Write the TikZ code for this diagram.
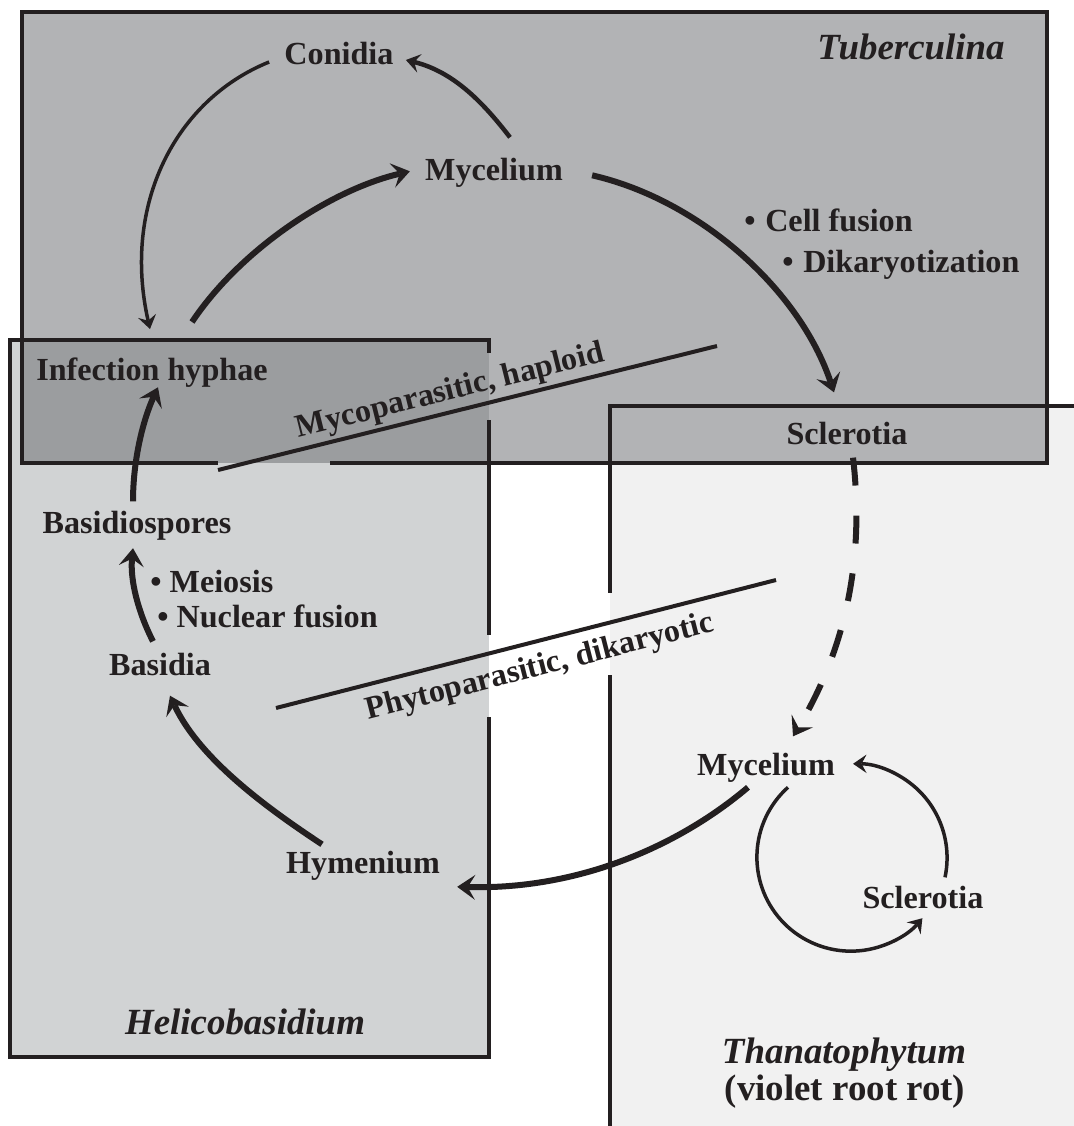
\documentclass[tikz,border=0pt]{standalone}
\usepackage{fontspec}
\setmainfont{Liberation Serif}
\usetikzlibrary{arrows.meta}
\definecolor{ink}{HTML}{231F20}
\definecolor{tubgray}{HTML}{B2B3B5}
\definecolor{helgray}{HTML}{D1D3D4}
\definecolor{lapgray}{HTML}{9B9D9F}
\definecolor{thagray}{HTML}{F1F1F1}
\begin{document}
\begin{tikzpicture}[x = 0.2mm, y = 0.2mm, color = ink,
  stage/.style = {font = \fontsize{18.3}{22}\selectfont\bfseries, inner sep = 0, anchor = base},
  genus/.style = {font = \fontsize{21}{25}\selectfont\bfseries\itshape, inner sep = 0, anchor = base},
  bigarrow/.style = {line width = 1.2mm, -{Stealth[length = 3.6mm, width = 5mm, inset = 1.5mm, line width = 0pt]}},
  midarrow/.style = {line width = 0.9mm, -{Stealth[length = 2.8mm, width = 3.8mm, inset = 1.1mm, line width = 0pt]}},
  thinarrow/.style = {line width = 0.7mm, -{Stealth[length = 2.7mm, width = 3.7mm, inset = 1mm, line width = 0pt]}},
  boxline/.style = {line width = 0.8mm}]

\fill [white] (0,0) rectangle (1074,-1126);
\useasboundingbox (0,0) rectangle (1074,-1126);

\fill [thagray] (610,-406) rectangle (1074,-1126);
\fill [tubgray] (22,-12) rectangle (1047,-463);
\fill [helgray] (10,-340) rectangle (489,-1057);
\fill [lapgray] (22,-340) rectangle (489,-463);

\draw [boxline] (218,-463) -- (22,-463) -- (22,-12) -- (1047,-12) -- (1047,-463) -- (330,-463);
\draw [boxline] (489,-353) -- (489,-340) -- (10,-340) -- (10,-1057) -- (489,-1057) -- (489,-717);
\draw [boxline] (489,-420) -- (489,-635);
\draw [boxline] (1074,-406) -- (610,-406) -- (610,-593);
\draw [boxline] (610,-675) -- (610,-1126);

\node [genus] (tub) at (911,-60) {Tuberculina};
\node [genus] (helico) at (245,-1034) {Helicobasidium};
\node [genus] (thanato) at (844,-1063) {Thanatophytum};
\node [genus, font = \fontsize{21}{25}\selectfont\bfseries] (violet) at (845,-1100) {(violet root rot)};

\node [stage] (conidia) at (339,-65) {Conidia};
\node [stage] (mycA) at (494,-181) {Mycelium};
\node [stage, anchor = base west] (cellfus) at (744,-232) {\textbullet\hspace{0.3em}Cell fusion};
\node [stage, anchor = base west] (dikar) at (782,-272) {\textbullet\hspace{0.3em}Dikaryotization};
\node [stage] (infect) at (152,-380) {Infection hyphae};
\node [stage] (sclerA) at (847,-444) {Sclerotia};
\node [stage] (basidiosp) at (137,-533) {Basidiospores};
\node [stage, anchor = base west] (meiosis) at (150,-592) {\textbullet\hspace{0.25em}Meiosis};
\node [stage, anchor = base west] (nucfus) at (157,-627) {\textbullet\hspace{0.25em}Nuclear fusion};
\node [stage] (basidia) at (160,-675) {Basidia};
\node [stage] (mycB) at (766,-775) {Mycelium};
\node [stage] (hymen) at (363,-873) {Hymenium};
\node [stage] (sclerB) at (923,-908) {Sclerotia};

\coordinate (mycoL) at (218,-470);
\coordinate (mycoR) at (717,-346);
\coordinate (phytoL) at (276,-708);
\coordinate (phytoR) at (776,-580);

\draw [boxline] (mycoL) -- node [stage, pos = 0.475, sloped, above = 0.6mm] (myco) {Mycoparasitic, haploid} (mycoR);
\draw [boxline] (phytoL) -- node [stage, pos = 0.515, sloped, below = 2mm] (phyto) {Phytoparasitic, dikaryotic} (phytoR);

\draw [thinarrow] ([shift = {(-15,-8)}] conidia.west) .. controls (175,-100) and (122,-205) .. ([shift = {(-2,28)}] infect.north);
\draw [bigarrow] ([shift = {(40,35)}] infect.north) .. controls (240,-250) and (330,-190) .. ([shift = {(-15,2)}] mycA.west);
\draw [midarrow] ([shift = {(16,21)}] mycA.north) .. controls (485,-105) and (455,-72) .. ([shift = {(12,-6)}] conidia.east);
\draw [bigarrow] ([shift = {(29,-2)}] mycA.east) .. controls (700,-200) and (800,-290) .. ([shift = {(-13,29)}] sclerA.north);
\draw [bigarrow, dash pattern = on 5.6mm off 6mm] ([shift = {(6,-13)}] sclerA.south) .. controls (865,-560) and (845,-650) .. ([shift = {(27,16)}] mycB.north);
\draw [bigarrow] ([shift = {(-18,-5)}] mycB.south) .. controls (680,-845) and (580,-890) .. ([shift = {(17,-21.5)}] hymen.east);
\draw [bigarrow] ([shift = {(-41,6)}] hymen.north) .. controls (270,-810) and (200,-760) .. ([shift = {(10,-20)}] basidia.south);
\draw [bigarrow] ([shift = {(-7,11)}] basidia.north) .. controls (138,-612) and (130,-580) .. ([shift = {(-4,-8)}] basidiosp.south);
\draw [bigarrow] ([shift = {(-4,9)}] basidiosp.north) .. controls (133,-460) and (143,-420) .. ([shift = {(6,0)}] infect.south);

\draw [thinarrow] ([shift = {(22,-5)}] mycB.south) arc [start angle = 132, end angle = 319.5, radius = 94];
\draw [thinarrow] ([shift = {(22,8)}] sclerB.north) arc [start angle = -12, end angle = 90, radius = 94];

\end{tikzpicture}
\end{document}
